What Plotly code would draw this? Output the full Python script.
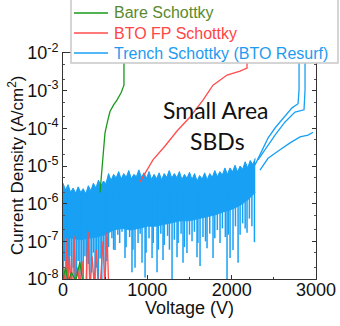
import plotly.graph_objects as go

# ---------------- data ----------------
# Bare Schottky
green_low_v = [0, 30, 60, 100, 150, 200, 230, 260]
green_low_j = [1e-8, 2e-8, 8e-9, 1.5e-8, 9e-9, 2.8e-8, 1e-8, 5e-9]
green_v = [439, 450, 462, 474, 498, 530, 557, 600, 640, 690, 711, 723, 723]
green_j = [2.0e-6, 4.0e-6, 9.3e-6, 2.0e-5, 7.6e-5, 1.6e-4, 2.8e-4, 4.2e-4,
           5.6e-4, 8.9e-4, 1.17e-3, 1.4e-3, 2.2e-2]

# BTO FP Schottky
red_low_v = [0, 15, 30, 47, 60, 75, 95, 115, 130, 150, 175, 200, 225, 250,
             275, 297, 320, 345, 370, 395, 420, 445, 474, 495, 510, 522, 540, 560]
red_low_j = [3e-8, 1e-8, 5e-9, 1.2e-7, 6e-9, 4e-8, 8e-9, 5e-9, 1.4e-7, 7e-9,
             2e-8, 5e-9, 3e-8, 6e-9, 9e-9, 1.8e-7, 5e-9, 4e-8, 7e-9, 6e-8,
             5e-9, 9e-9, 1e-7, 6e-9, 3e-8, 1.7e-7, 8e-9, 5e-9]
red_v = [913, 1067, 1210, 1352, 1506, 1660, 1779, 1945, 2099, 2182, 2182]
red_j = [3.8e-6, 1.45e-5, 3.4e-5, 8.5e-5, 2.0e-4, 5.6e-4, 1.4e-3, 2.6e-3,
         3.3e-3, 4.0e-3, 2.2e-2]

# Trench Schottky (BTO Resurf): lower edge of the solid noise band
band_v = [0, 100, 200, 300, 400, 500, 600, 700, 800, 900, 1000, 1100, 1200,
          1300, 1400, 1500, 1600, 1700, 1800, 1900, 2000, 2100, 2200, 2280]
band_lo = [1.2e-7, 1.2e-7, 1.1e-7, 1.2e-7, 1.3e-7, 1.5e-7, 2.0e-7, 2.2e-7,
           2.0e-7, 2.2e-7, 2.5e-7, 2.5e-7, 2.8e-7, 3.0e-7, 3.5e-7, 3.5e-7,
           4.0e-7, 4.5e-7, 5.0e-7, 6.0e-7, 7.0e-7, 9.0e-7, 1.3e-6, 2.0e-6]
# jagged upper edge of the noise band
top_v = [0, 30, 60, 90, 120, 150, 180, 210, 240, 270, 300, 330, 360, 390,
         420, 450, 480, 510, 540, 570, 600, 630, 660, 690, 720, 750, 780,
         810, 840, 870, 900, 930, 960, 990, 1020, 1050, 1080, 1110, 1140,
         1170, 1200, 1230, 1260, 1290, 1320, 1350, 1380, 1410, 1440, 1470,
         1500, 1530, 1560, 1590, 1620, 1650, 1680, 1710, 1740, 1770, 1800,
         1830, 1860, 1890, 1920, 1950, 1980, 2010, 2040, 2070, 2100, 2130,
         2160, 2190, 2220, 2250, 2280]
top_j = [3.5e-6, 2.3e-6, 3.2e-6, 2.0e-6, 2.6e-6, 1.9e-6, 2.8e-6, 2.0e-6,
         2.5e-6, 1.8e-6, 3.0e-6, 2.2e-6, 3.5e-6, 2.6e-6, 4.2e-6, 3.0e-6,
         4.0e-6, 3.4e-6, 6.3e-6, 4.1e-6, 6.0e-6, 4.8e-6, 7.1e-6, 4.5e-6,
         6.3e-6, 5.0e-6, 7.6e-6, 4.6e-6, 6.0e-6, 5.2e-6, 7.9e-6, 5.0e-6,
         6.6e-6, 4.7e-6, 7.1e-6, 4.4e-6, 6.0e-6, 4.6e-6, 6.6e-6, 4.3e-6,
         6.3e-6, 5.0e-6, 7.6e-6, 4.8e-6, 6.3e-6, 4.9e-6, 7.1e-6, 4.4e-6,
         6.0e-6, 4.7e-6, 6.8e-6, 4.4e-6, 6.3e-6, 4.0e-6, 5.6e-6, 4.5e-6,
         6.6e-6, 4.3e-6, 6.3e-6, 5.0e-6, 7.6e-6, 5.2e-6, 7.1e-6, 5.8e-6,
         8.9e-6, 6.0e-6, 8.9e-6, 7.0e-6, 1.05e-5, 7.0e-6, 1.0e-5, 8.2e-6,
         1.3e-5, 9.0e-6, 1.4e-5, 1.1e-5, 1.6e-5]
# downward noise spikes: voltage and the lowest value reached
spike_from = 2e-6
spike_v = [5, 20, 35, 50, 65, 80, 100, 120, 140, 160, 180, 200, 220, 240,
           260, 280, 300, 320, 340, 360, 380, 400, 420, 440, 460, 480, 500,
           520, 540, 580, 600, 617, 650, 672, 700, 735, 748, 790, 818, 830,
           854, 890, 915, 937, 973, 985, 1020, 1056, 1070, 1115, 1130, 1160,
           1186, 1200, 1240, 1262, 1293, 1320, 1352, 1365, 1400, 1423, 1440,
           1470, 1500, 1530, 1558, 1589, 1600, 1625, 1660, 1690, 1708, 1740,
           1779, 1800, 1830, 1862, 1890, 1925, 1945, 1960, 1981, 2016, 2045,
           2076, 2100, 2130, 2160, 2182, 2210, 2240, 2270]
spike_j = [8e-9, 3e-8, 6e-9, 1.5e-8, 5e-9, 4e-8, 7e-9, 2e-8, 5e-9, 1.2e-8,
           3e-8, 6e-9, 1.8e-8, 5e-9, 4e-8, 8e-9, 2.5e-8, 6e-9, 1.5e-8, 5e-8,
           7e-9, 2e-8, 5e-9, 3.5e-8, 1e-8, 6e-8, 8e-9, 3e-8, 7e-8,
           1.2e-7, 6e-8, 5.9e-8, 1.5e-7, 9e-8, 1.8e-7, 3.6e-8, 7e-8, 1.3e-7,
           1.5e-8, 6e-8, 2e-8, 9e-8, 1.6e-7, 2.7e-8, 1.1e-8, 5e-8, 1.2e-7,
           3.6e-8, 9e-8, 1.5e-8, 6e-8, 1.6e-7, 3.2e-8, 8e-8, 1.4e-7, 6e-8,
           1e-8, 1.1e-7, 3.8e-8, 9e-8, 1.6e-7, 2.7e-8, 7e-8, 4.9e-8, 1.5e-7,
           1e-7, 1.8e-7, 3.8e-8, 9e-8, 2.2e-8, 1.3e-7, 1e-7, 6.6e-8, 1.6e-7,
           3.6e-8, 1.2e-7, 2e-7, 9e-8, 2.2e-7, 1.3e-7, 8e-9, 1.5e-7, 3.6e-8,
           5.9e-8, 2.5e-7, 2.7e-8, 1.5e-7, 3e-7, 2.2e-7, 1.7e-7, 4e-7,
           2.5e-7, 9.5e-8]

# high-voltage sweeps
sweepA_v = [2277, 2360, 2431, 2514, 2609, 2716, 2787, 2799, 2799]
sweepA_j = [1.07e-5, 2.7e-5, 5.5e-5, 1.02e-4, 1.86e-4, 3.5e-4, 4.5e-4, 1.05e-3, 2.2e-2]
sweepB_v = [2313, 2408, 2514, 2633, 2751, 2858, 2870, 2870]
sweepB_j = [1.45e-5, 3.0e-5, 6.6e-5, 1.48e-4, 2.7e-4, 3.1e-4, 1.05e-3, 2.2e-2]
sweepC_v = [2336, 2431, 2574, 2692, 2811, 2906, 2965]
sweepC_j = [7.8e-6, 1.6e-5, 2.7e-5, 4.1e-5, 5.9e-5, 6.6e-5, 7.9e-5]

x_ticks = [0, 1000, 2000, 3000]
y_ticks = [1e-8, 1e-7, 1e-6, 1e-5, 1e-4, 1e-3, 1e-2]
y_ticktext = ["10<sup>-8</sup>", "10<sup>-7</sup>", "10<sup>-6</sup>",
              "10<sup>-5</sup>", "10<sup>-4</sup>", "10<sup>-3</sup>",
              "10<sup>-2</sup>"]

legend_names = ["Bare Schottky", "BTO FP Schottky", "Trench Schottky (BTO Resurf)"]
legend_line_colors = ["#1a9a1a", "#ff4c4c", "#18a0f4"]
legend_text_colors = ["#5a8a2e", "#ff4545", "#1e9bf0"]

# ---------------- styling ----------------
BLUE = "#18a0f4"
RED = "#ff4c4c"
GREEN = "#1a9a1a"
FONT = "Liberation Sans"

fig = go.Figure()

# blue band (fill from lower edge to jagged top)
fig.add_trace(go.Scatter(x=band_v, y=band_lo, mode="lines",
                         line=dict(width=0.8, color=BLUE), showlegend=False,
                         hoverinfo="skip"))
fig.add_trace(go.Scatter(x=top_v, y=top_j, mode="lines",
                         line=dict(width=1.0, color=BLUE), fill="tonexty",
                         fillcolor=BLUE, showlegend=False, hoverinfo="skip"))

# spikes as vertical segments
sx, sy = [], []
for v, j in zip(spike_v, spike_j):
    sx += [v, v, None]
    sy += [spike_from, j, None]
fig.add_trace(go.Scatter(x=sx, y=sy, mode="lines",
                         line=dict(width=1.5, color=BLUE), showlegend=False,
                         connectgaps=False, hoverinfo="skip"))

blue_x = sweepA_v + [None] + sweepB_v + [None] + sweepC_v
blue_y = sweepA_j + [None] + sweepB_j + [None] + sweepC_j
fig.add_trace(go.Scatter(
    x=blue_x, y=blue_y, mode="lines", line=dict(width=1.3, color=BLUE),
    name=legend_names[2], showlegend=False, connectgaps=False))

fig.add_trace(go.Scatter(
    x=red_low_v + [None] + red_v, y=red_low_j + [None] + red_j, mode="lines",
    line=dict(width=1.3, color=RED), name=legend_names[1],
    showlegend=False, connectgaps=False))

fig.add_trace(go.Scatter(
    x=green_low_v + [None] + green_v, y=green_low_j + [None] + green_j,
    mode="lines", line=dict(width=1.3, color=GREEN), name=legend_names[0],
    showlegend=False, connectgaps=False))

axis_common = dict(showline=True, linecolor="#333333", linewidth=1,
                   mirror="ticks", ticks="inside", ticklen=4,
                   tickcolor="#333333", showgrid=False, zeroline=False,
                   automargin=False,
                   tickfont=dict(family=FONT, size=18, color="#111111"))

fig.update_xaxes(range=[0, 3000], tickvals=x_ticks, tickangle=0,
                 ticklabelstandoff=-6,
                 minor=dict(dtick=500, ticks="inside", ticklen=2.5,
                            tickcolor="#333333"),
                 **axis_common)
fig.update_yaxes(type="log", range=[-8, -2], tickvals=y_ticks,
                 ticktext=y_ticktext,
                 minor=dict(ticks="inside", ticklen=2, tickcolor="#555555"),
                 **axis_common)

# legend box (drawn by hand to match the reference's compact spacing)
px_x = lambda p: (p - 63) / 253.0
px_y = lambda p: (279 - p) / 226.0
shapes = [dict(type="rect", xref="paper", yref="paper",
               x0=px_x(71), x1=px_x(338), y0=px_y(63), y1=px_y(-1),
               fillcolor="white", line=dict(color="#c8c8c8", width=1.5),
               layer="above")]
annotations = []
row_px = [13, 33, 53]
for name, lc, tc, ry in zip(legend_names, legend_line_colors,
                            legend_text_colors, row_px):
    shapes.append(dict(type="line", xref="paper", yref="paper",
                       x0=px_x(74), x1=px_x(108), y0=px_y(ry), y1=px_y(ry),
                       line=dict(color=lc, width=1.6), layer="above"))
    annotations.append(dict(text=name, xref="paper", yref="paper",
                            x=px_x(112), y=px_y(ry), xanchor="left",
                            yanchor="middle", showarrow=False,
                            font=dict(family=FONT, size=16, color=tc)))

annotations += [
    dict(text="Current Density (A/cm<sup>2</sup>)", textangle=-90,
         xref="paper", yref="paper", x=px_x(16), y=px_y(165),
         xanchor="center", yanchor="middle", showarrow=False,
         font=dict(family=FONT, size=17, color="#111111")),
    dict(text="Voltage (V)", xref="paper", yref="paper", x=0.5,
         y=px_y(308), xanchor="center", yanchor="middle", showarrow=False,
         font=dict(family=FONT, size=18, color="#111111")),
    dict(text="Small Area", xref="paper", yref="paper", x=px_x(216),
         y=px_y(110), xanchor="center", yanchor="middle", showarrow=False,
         font=dict(family="Lato", size=23, color="#111111")),
    dict(text="SBDs", xref="paper", yref="paper", x=px_x(217),
         y=px_y(141), xanchor="center", yanchor="middle", showarrow=False,
         font=dict(family="Lato", size=23, color="#111111")),
]

fig.update_layout(
    width=340, height=326,
    margin=dict(l=63, r=24, t=53, b=47, pad=0, autoexpand=False),
    paper_bgcolor="white", plot_bgcolor="white",
    font=dict(family=FONT, color="#111111"),
    showlegend=False,
    shapes=shapes,
    annotations=annotations,
)

fig.write_html("out.html")
